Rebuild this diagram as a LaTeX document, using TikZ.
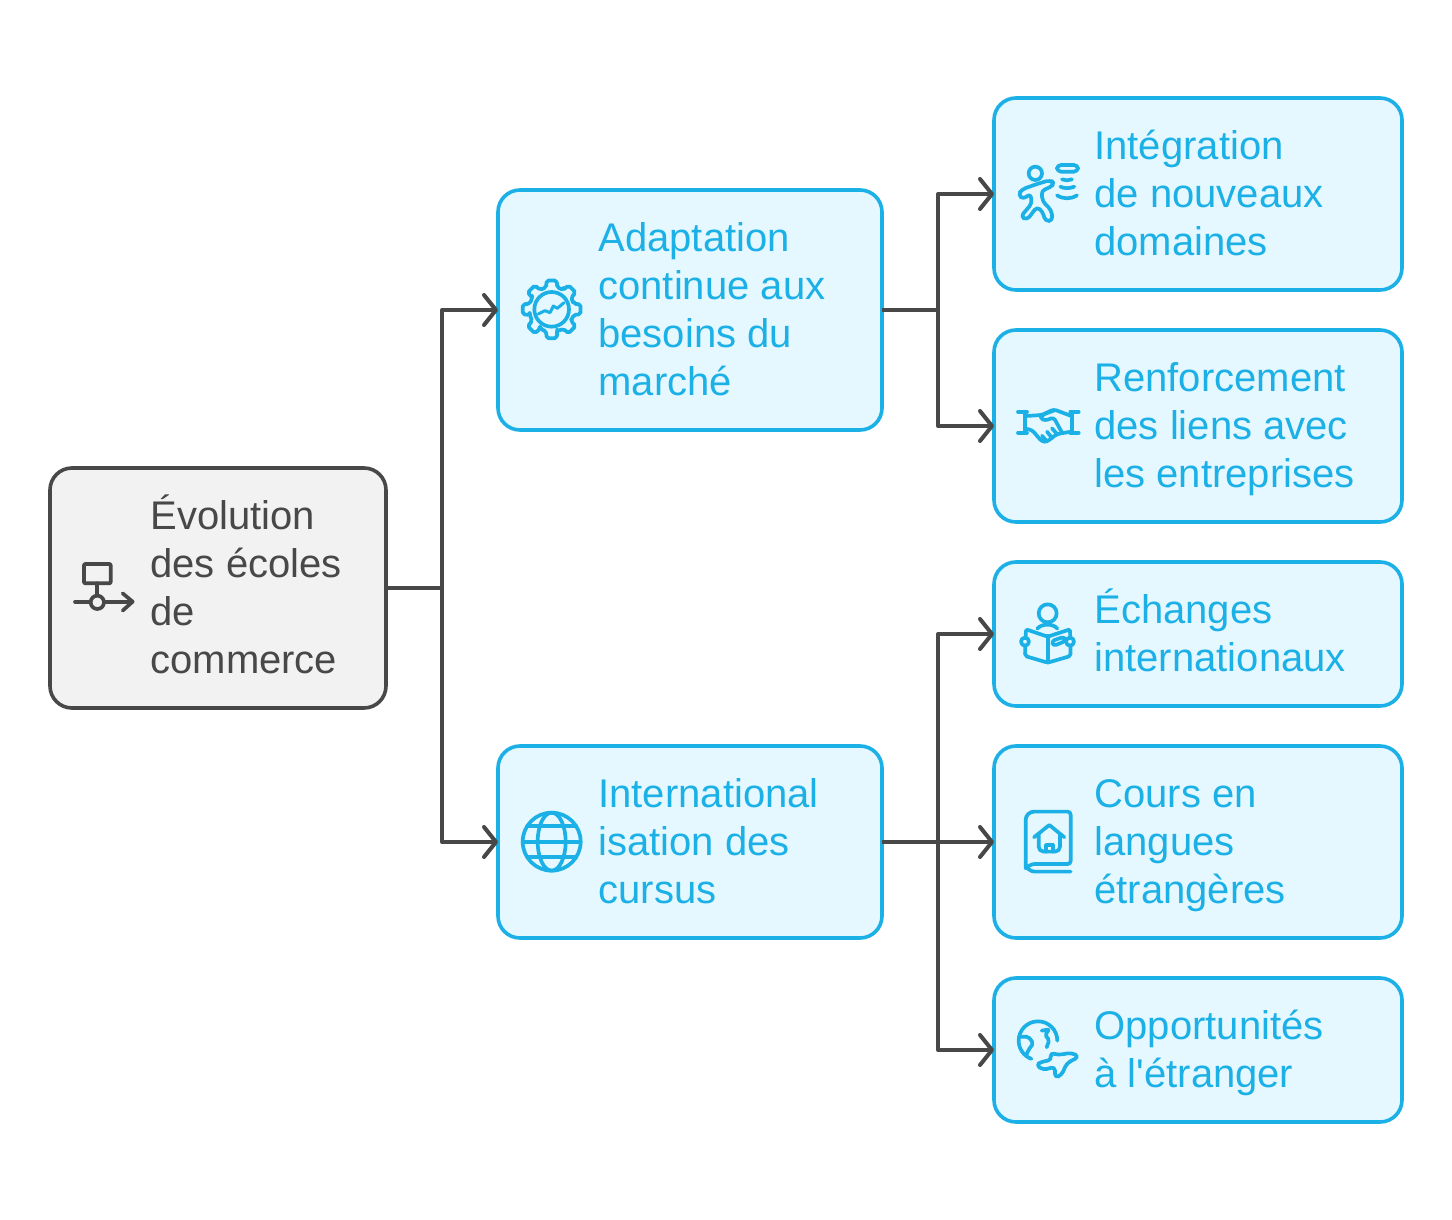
\documentclass[tikz,border=0pt]{standalone}
\usepackage{fontspec}
\usetikzlibrary{arrows.meta}
\newfontfamily\labfont{Liberation Sans}
\definecolor{cy}{HTML}{1BB0E6}
\definecolor{cyfill}{HTML}{E5F8FF}
\definecolor{dk}{HTML}{484848}
\definecolor{grfill}{HTML}{F2F2F2}
\tikzset{
 box/.style={draw=cy,fill=cyfill,line width=3.6pt,rounded corners=22pt,inner sep=0pt,outer sep=0pt},
 rootbox/.style={box,draw=dk,fill=grfill},
 lab/.style={anchor=west,inner sep=0pt,outer sep=0pt,align=left,text=cy,font=\labfont\fontsize{40}{48}\selectfont},
 rootlab/.style={lab,text=dk},
 conn/.style={draw=dk,line width=4pt,line join=round},
 arr/.style={conn,-{Straight Barb[round,length=12pt,width=30pt,line width=4pt]}},
 ico/.style={draw=cy,line width=3.7pt,line cap=round,line join=round},
 icod/.style={ico,draw=dk},
 zm/.style={x=0.3333pt,y=-0.3333pt},
}
\begin{document}
\begin{tikzpicture}[x=1pt,y=-1pt]
\useasboundingbox (0,0) rectangle (1452,1220);
\fill[white] (0,0) rectangle (1452,1220);
% boxes
\node[rootbox,minimum width=336pt,minimum height=240pt] (root) at (218,588) {};
\node[box,minimum width=384pt,minimum height=240pt] (adapt) at (690,310) {};
\node[box,minimum width=384pt,minimum height=192pt] (inter) at (690,842) {};
\node[box,minimum width=408pt,minimum height=192pt] (integ) at (1198,194) {};
\node[box,minimum width=408pt,minimum height=192pt] (renf) at (1198,426) {};
\node[box,minimum width=408pt,minimum height=144pt] (ech) at (1198,634) {};
\node[box,minimum width=408pt,minimum height=192pt] (cours) at (1198,842) {};
\node[box,minimum width=408pt,minimum height=144pt] (opp) at (1198,1050) {};
% labels
\node[rootlab] (troot) at (150.5,591) {\strut Évolution\\\strut des écoles\\\strut de\\\strut commerce};
\node[lab] (tadapt) at (598.5,313.5) {\strut Adaptation\\\strut continue aux\\\strut besoins du\\\strut marché};
\node[lab] (tinter) at (598.5,845.5) {\strut International\\\strut isation des\\\strut cursus};
\node[lab] (tinteg) at (1094.5,197.5) {\strut Intégration\\\strut de nouveaux\\\strut domaines};
\node[lab] (trenf) at (1094.5,429.5) {\strut Renforcement\\\strut des liens avec\\\strut les entreprises};
\node[lab] (tech) at (1094.5,637.5) {\strut Échanges\\\strut internationaux};
\node[lab] (tcours) at (1094.5,845.5) {\strut Cours en\\\strut langues\\\strut étrangères};
\node[lab] (topp) at (1094.5,1053.5) {\strut Opportunités\\\strut à l'étranger};
% connectors
\coordinate (j1) at (442,588);
\coordinate (j2) at (938,310);
\coordinate (j3) at (938,842);
\draw[conn] (root.east) -- (j1);
\draw[arr] (j1) |- (adapt.west);
\draw[arr] (j1) |- (inter.west);
\draw[conn] (adapt.east) -- (j2);
\draw[arr] (j2) |- (integ.west);
\draw[arr] (j2) |- (renf.west);
\draw[conn] (inter.east) -- (j3);
\draw[arr] (j3) |- (ech.west);
\draw[arr] (j3) -- (cours.west);
\draw[arr] (j3) |- (opp.west);
% flow icon
\begin{scope}[shift={(40,550)},zm]
\draw[icod,rounded corners=1pt] (132,42) rectangle (212,100);
\draw[icod] (172,100) -- (172,136);
\draw[icod] (172,157) circle (20);
\draw[icod] (105,155) -- (151,155) (193,155) -- (276,155);
\draw[icod] (248,130) -- (278,155) -- (248,182);
\end{scope}
% gear icon
\begin{scope}[shift={(510,270)},zm]
\begin{scope}[shift={(125,118)}]
\draw[ico,rounded corners=2pt] (-14:68)
 \foreach \a in {0,45,...,315}{
  -- ({\a-14}:68) -- ({\a-10}:88) -- ({\a+10}:88) -- ({\a+14}:68) -- ({\a+31}:68)
 } -- cycle;
\draw[ico] (0,0) circle (52);
\draw[ico,line width=3pt] (-40,14) -- (-20,4) -- (-5,10) -- (5,-10) -- (17,-3) -- (37,-20);
\end{scope}
\end{scope}
% globe icon
\begin{scope}[shift={(510,800)},zm]
\begin{scope}[shift={(125,125)}]
\draw[ico] (0,0) circle (87);
\draw[ico] (0,0) ellipse (42 and 87);
\draw[ico] (-87,0) -- (87,0);
\draw[ico] (-73,-47) -- (73,-47);
\draw[ico] (-73,47) -- (73,47);
\end{scope}
\end{scope}
% runner icon
\begin{scope}[shift={(1012,160)},zm]
\draw[ico] (70,40) circle (20);
\draw[ico,rounded corners=4pt] (75,72) -- (115,60) -- (127,70) -- (115,82) -- (88,92) -- (92,125) -- (118,150) -- (122,182) -- (100,184) -- (92,155) -- (75,140) -- (45,180) -- (26,170) -- (60,130) -- (55,100) -- (35,118) -- (18,105) -- (30,88) -- cycle;
\draw[ico,rounded corners=4pt] (135,15) rectangle (198,35);
\draw[ico] (150,58) .. controls (160,62) and (170,62) .. (180,58);
\draw[ico] (145,80) .. controls (158,86) and (172,86) .. (187,80);
\draw[ico] (135,106) .. controls (155,118) and (175,118) .. (195,106);
\end{scope}
% handshake
\begin{scope}[shift={(1012,400)},zm]
\draw[ico] (18,35) -- (45,35) (18,98) -- (45,98) (38,35) -- (38,98);
\draw[ico] (175,35) -- (200,35) (175,98) -- (200,98) (180,35) -- (180,98);
\draw[ico,rounded corners=3pt] (42,48) -- (90,45) -- (125,28) -- (178,48);
\draw[ico,rounded corners=3pt] (40,86) -- (60,90) -- (90,125) -- (105,125) -- (135,102) -- (178,95);
\draw[ico,rounded corners=3pt] (125,32) -- (90,45) -- (85,55) -- (100,62) -- (125,52) -- (150,98);
\draw[ico] (105,125) -- (90,107) (120,114) -- (105,95) (135,102) -- (120,85);
\end{scope}
% reading person + book-house
\begin{scope}[shift={(1000,590)},zm]
\draw[ico] (143,70) circle (27);
\draw[ico,rounded corners=2pt] (78,118) -- (143,140) -- (210,118) -- (212,198) -- (143,218) -- (75,198) -- cycle;
\draw[ico] (143,140) -- (143,218);
\draw[ico] (112,116) .. controls (125,100) and (160,100) .. (172,116);
\draw[ico,fill=cyfill] (75,155) circle (12) (210,155) circle (12);
\draw[ico,rounded corners=3pt] (155,153) -- (193,140) -- (197,153) -- (160,168) -- cycle;
% book house
\draw[ico,rounded corners=3pt] (77,835) -- (77,680) -- (92,665) -- (212,665) -- (212,822) -- (95,822) -- (77,835);
\draw[ico,rounded corners=3pt] (77,830) -- (95,845) -- (212,845);
\draw[ico] (102,742) -- (148,705) -- (193,742);
\draw[ico,rounded corners=5pt] (116,732) -- (116,785) -- (180,785) -- (180,732);
\draw[ico] (138,785) -- (138,765) -- (158,765) -- (158,785);
\end{scope}
% globe and plane
\begin{scope}[shift={(1000,1000)},zm]
\draw[ico] (172,122) arc (0:-250:58 and 58);
\draw[ico,rounded corners=2pt] (58,110) -- (85,110) -- (100,130) -- (85,150) -- (78,168);
\draw[ico,rounded corners=2pt] (125,92) -- (148,88) -- (135,105) -- (148,120) -- (140,142);
\draw[ico,rounded corners=4pt] (150,158) -- (175,165) -- (215,158) -- (237,170) -- (200,190) -- (185,225) -- (165,234) -- (165,200) -- (130,210) -- (108,195) -- (125,185) -- (155,180) -- cycle;
\end{scope}
\end{tikzpicture}
\end{document}
